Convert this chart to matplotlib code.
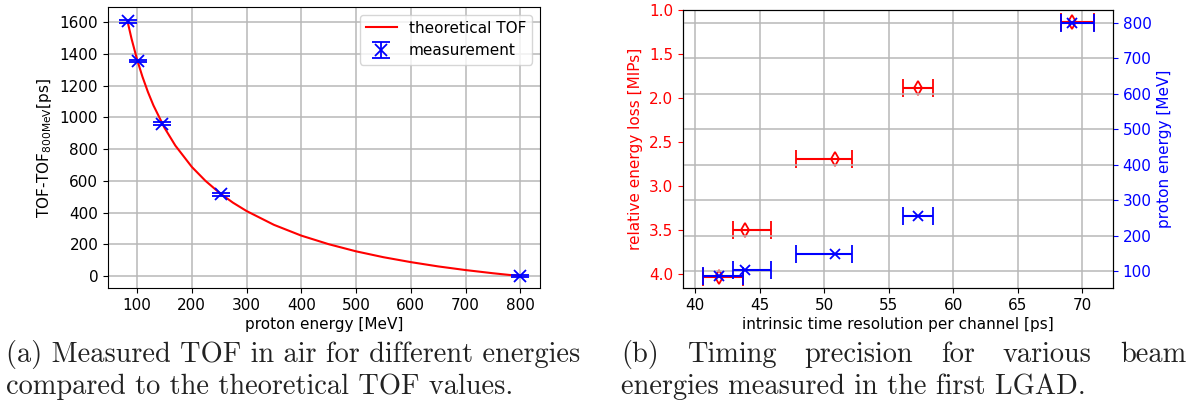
import matplotlib
matplotlib.use("Agg")
import matplotlib.pyplot as plt
import numpy as np

# ---------------- data: panel (a) ----------------
theory_energy = [83, 90, 100, 110, 120, 130, 150, 170, 200, 225, 250, 275, 300,
                 350, 400, 450, 500, 550, 600, 650, 700, 750, 800]
theory_tof = [1600, 1495, 1365, 1255, 1159, 1075, 935, 822, 688, 600, 526, 463, 410,
              323, 255, 201, 156, 119, 88, 61, 38, 18, 0]
meas_energy = [83, 102, 146, 254, 800]
meas_tof = [1605, 1355, 960, 515, 0]
meas_err = [8, 8, 8, 8, 8]

# ---------------- data: panel (b) ----------------
time_res = [69.18, 57.29, 50.82, 43.85, 41.85]
time_err_lo = [0.86, 1.20, 3.03, 0.94, 1.26]
time_err_hi = [1.70, 1.12, 1.30, 2.03, 1.86]
rel_eloss = [1.137, 1.885, 2.689, 3.498, 4.03]
beam_energy = [800, 254, 147, 102, 85]

cap_a = ["(a) Measured TOF in air for different energies",
         "compared to the theoretical TOF values."]
cap_b = ["(b) Timing precision for various beam",
         "energies measured in the first LGAD."]

W, H = 1195, 404
FS = 11
fig = plt.figure(figsize=(W / 100, H / 100), dpi=100)


def axes_px(x0, y0, x1, y1):
    return fig.add_axes([x0 / W, 1 - y1 / H, (x1 - x0) / W, (y1 - y0) / H])


# ---------------- panel (a) ----------------
ax1 = axes_px(108, 7, 540, 288)
ax1.plot(theory_energy, theory_tof, color="red", lw=1.5, label="theoretical TOF")
ax1.errorbar(meas_energy, meas_tof, yerr=meas_err, fmt="x", color="blue",
             ms=9, mew=1.3, capsize=6.5, elinewidth=1.3, capthick=1.3,
             label="measurement")
ax1.set_xticks([100, 200, 300, 400, 500, 600, 700, 800])
ax1.set_yticks([0, 200, 400, 600, 800, 1000, 1200, 1400, 1600])
ax1.set_xlim(47, 836)
ax1.set_ylim(-75, 1695)
ax1.grid(True, color="#b8b8b8", lw=1.1)
ax1.set_axisbelow(True)
ax1.set_xlabel("proton energy [MeV]", fontsize=FS, labelpad=3)
ax1.set_ylabel(r"TOF-TOF$_{\mathrm{800MeV}}$[ps]", fontsize=FS)
ax1.tick_params(labelsize=FS)
ax1.legend(loc="upper right", fontsize=FS)

# ---------------- panel (b) ----------------
ax2 = axes_px(683, 10, 1113, 288)
ax3 = ax2.twinx()
ax2.errorbar(time_res, rel_eloss, xerr=[time_err_lo, time_err_hi], fmt="d",
             color="red", mfc="none", ms=7.6, mew=1.3, capsize=6.4,
             elinewidth=1.5, capthick=1.3)
ax3.errorbar(time_res, beam_energy, xerr=[time_err_lo, time_err_hi], fmt="x",
             color="blue", ms=6.7, mew=1.3, capsize=6.4, elinewidth=1.5, capthick=1.3)
ax2.set_xlim(39.05, 72.38)
ax2.set_ylim(4.156, 1.0)
ax3.set_ylim(52, 836)
ax2.set_xticks([40, 45, 50, 55, 60, 65, 70])
ax2.set_yticks([1.0, 1.5, 2.0, 2.5, 3.0, 3.5, 4.0])
ax3.set_yticks([100, 200, 300, 400, 500, 600, 700, 800])
ax2.xaxis.grid(True, color="#b8b8b8", lw=1.1)
ax3.yaxis.grid(True, color="#b8b8b8", lw=1.1)
ax2.set_axisbelow(True)
ax2.set_xlabel("intrinsic time resolution per channel [ps]", fontsize=FS, labelpad=3)
ax2.set_ylabel("relative energy loss [MIPs]", fontsize=FS, color="red")
ax3.set_ylabel("proton energy [MeV]", fontsize=FS, color="blue")
ax2.tick_params(axis="y", colors="red", labelsize=FS)
ax2.tick_params(axis="x", labelsize=FS)
ax3.tick_params(axis="y", colors="blue", labelsize=FS)

# ---------------- captions ----------------
cfont = dict(family="cmr10", fontsize=20.4, color="#222222")
renderer = fig.canvas.get_renderer()


def place_line(text, x0, y, x1=None):
    if x1 is None:
        fig.text(x0 / W, 1 - y / H, text, ha="left", va="baseline", **cfont)
        return
    words = text.split(" ")
    arts = [fig.text(0, 1 - y / H, w, ha="left", va="baseline", **cfont) for w in words]
    widths = [a.get_window_extent(renderer).width for a in arts]
    gap = (x1 - x0 - sum(widths)) / (len(words) - 1)
    x = x0
    for a, w in zip(arts, widths):
        a.set_x(x / W)
        x += w + gap


place_line(cap_a[0], 6, 362)
place_line(cap_a[1], 6, 394)
place_line(cap_b[0], 621, 362, 1186)
place_line(cap_b[1], 621, 394)

fig.savefig("out.png", dpi=100)
